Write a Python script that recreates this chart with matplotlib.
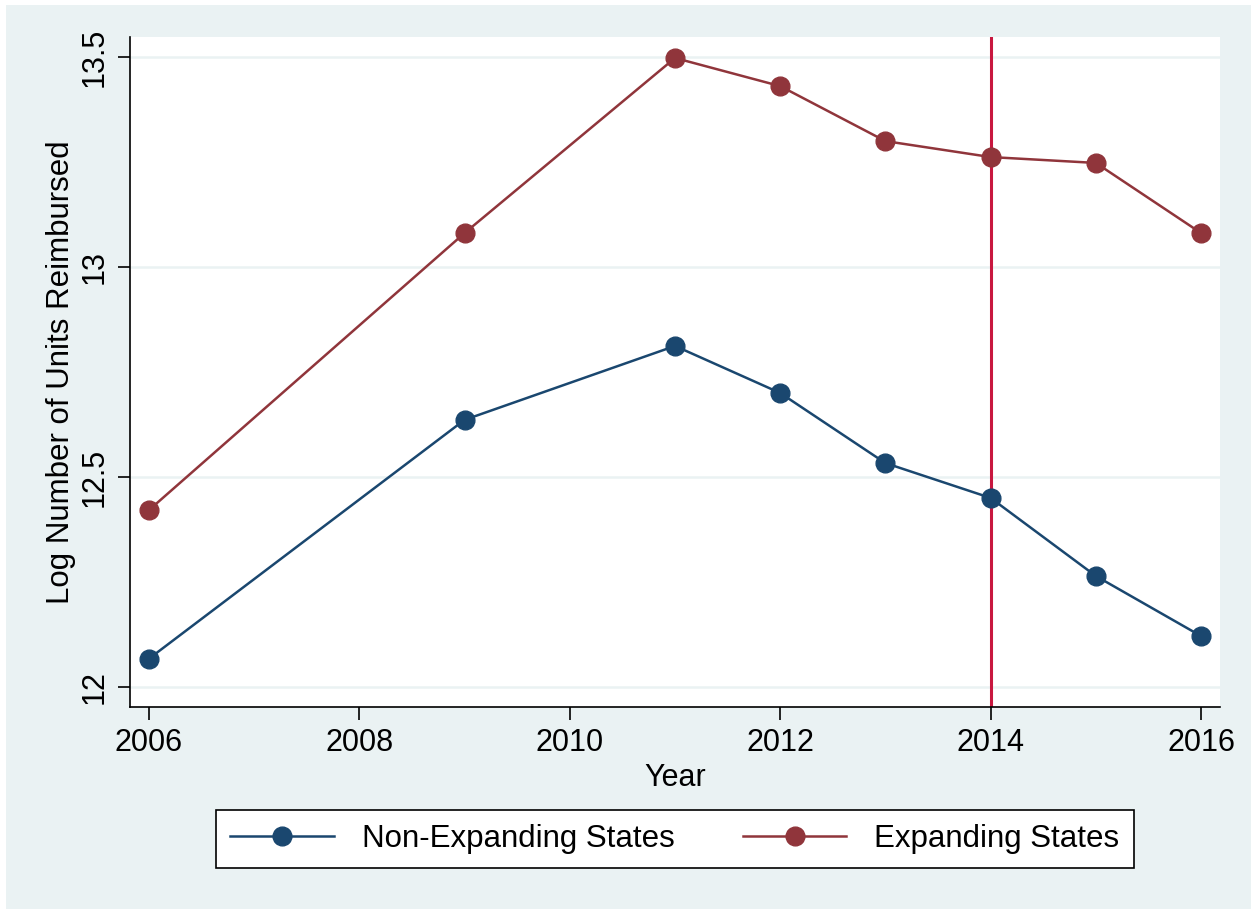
import matplotlib.pyplot as plt
from matplotlib.patches import Rectangle

plt.rcParams['font.family'] = ['Liberation Sans', 'DejaVu Sans']

years_non = [2006, 2009, 2011, 2012, 2013, 2014, 2015, 2016]
log_units_non = [12.067, 12.636, 12.812, 12.700, 12.533, 12.450, 12.264, 12.121]

years_exp = [2006, 2009, 2011, 2012, 2013, 2014, 2015, 2016]
log_units_exp = [12.421, 13.081, 13.498, 13.431, 13.300, 13.262, 13.248, 13.081]

expansion_year = 2014
x_ticks = [2006, 2008, 2010, 2012, 2014, 2016]
y_ticks = [12, 12.5, 13, 13.5]
y_tick_labels = ['12', '12.5', '13', '13.5']

NAVY = '#1a476f'
MAROON = '#90353b'
BG = '#eaf2f3'

fig = plt.figure(figsize=(12.51, 9.09), dpi=100, facecolor='white')
# stata-style graph region behind everything
fig.add_artist(Rectangle((6 / 1251, 0), 1, 1 - 5 / 909, transform=fig.transFigure,
                         facecolor=BG, edgecolor='none', zorder=-10))

ax = fig.add_axes([130 / 1251, 1 - 707 / 909, 1090 / 1251, 670 / 909])
ax.set_facecolor('white')

ax.plot(years_non, log_units_non, color=NAVY, lw=1.8, marker='o', ms=13.5,
        label='Non-Expanding States', zorder=3)
ax.plot(years_exp, log_units_exp, color=MAROON, lw=1.8, marker='o', ms=13.5,
        label='Expanding States', zorder=3)
ax.axvline(expansion_year, color='#c8173f', lw=2.2, zorder=2)

ax.set_xlim(2005.82, 2016.18)
ax.set_ylim(11.952, 13.548)
ax.set_xticks(x_ticks)
ax.set_yticks(y_ticks)
ax.set_yticklabels(y_tick_labels, rotation=90, va='center')
ax.grid(axis='y', color=BG, lw=1.8, zorder=1)
ax.set_axisbelow(True)

for s in ['top', 'right']:
    ax.spines[s].set_visible(False)
for s in ['left', 'bottom']:
    ax.spines[s].set_linewidth(1.2)
ax.tick_params(axis='both', direction='out', length=9, width=1.2, labelsize=22, pad=6)

ax.set_xlabel('Year', fontsize=22, labelpad=4)
ax.set_ylabel('Log Number of Units Reimbursed', fontsize=22.5, labelpad=2)

leg = fig.legend(loc='center', bbox_to_anchor=(675 / 1251, 1 - 839 / 909), ncol=2,
                 fontsize=22.5, frameon=True, fancybox=False, edgecolor='black',
                 facecolor='white', framealpha=1,
                 handlelength=3.3, columnspacing=2.2, borderpad=0.45, handletextpad=0.9)
leg.get_frame().set_linewidth(1.2)

fig.savefig('out.png', dpi=100, facecolor=fig.get_facecolor())
